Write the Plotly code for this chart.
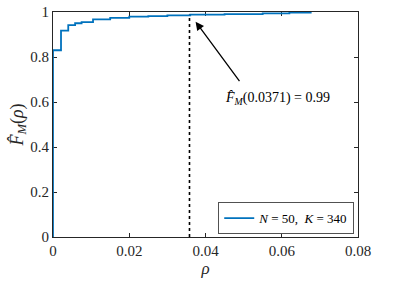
import plotly.graph_objects as go

rho = [0, 0, 0.0021, 0.0040, 0.0058, 0.0075, 0.0105, 0.015, 0.020, 0.025, 0.030, 0.036, 0.045, 0.055, 0.062, 0.0676]
F = [0, 0.83, 0.917, 0.942, 0.950, 0.955, 0.967, 0.974, 0.979, 0.982, 0.985, 0.988, 0.991, 0.994, 0.997, 1.0]

rho_mark = 0.0358
F_mark = 0.988
annot_text = "<i>F̂</i><sub><i>M</i></sub>(0.0371) = 0.99"
legend_name = "<i>N</i> = 50,  <i>K</i> = 340"

xticks = [0, 0.02, 0.04, 0.06, 0.08]
yticks = [0, 0.2, 0.4, 0.6, 0.8, 1]

FONT = "Liberation Serif"
BLUE = "#0072BD"

fig = go.Figure()
fig.add_trace(go.Scatter(x=rho, y=F, mode="lines", line=dict(color=BLUE, width=1.8, shape="hv"),
                         name=legend_name, cliponaxis=False))
fig.add_trace(go.Scatter(x=[rho_mark, rho_mark], y=[0, F_mark], mode="lines",
                         line=dict(color="black", width=1.6, dash="dot"), showlegend=False))

fig.add_annotation(x=0.0374, y=0.957, ax=0.0492, ay=0.686, axref="x", ayref="y", xref="x", yref="y",
                   text="", showarrow=True, arrowhead=2, arrowsize=1.3, arrowwidth=1.3, arrowcolor="black")
fig.add_annotation(x=0.0590, y=0.615, xref="x", yref="y", text=annot_text, showarrow=False,
                   font=dict(family=FONT, size=14, color="black"))

axis_common = dict(showline=True, linecolor="#262626", linewidth=0.8, mirror="ticks", ticks="inside",
                   ticklen=4, tickcolor="#262626", showgrid=False, zeroline=False, automargin=False,
                   layer="below traces",
                   tickfont=dict(family=FONT, size=15, color="#262626"))
fig.update_xaxes(range=[0, 0.08], tickvals=xticks, ticktext=["0", "0.02", "0.04", "0.06", "0.08"],
                 title=dict(text="<i>ρ</i>", font=dict(family=FONT, size=17, color="#262626"), standoff=4),
                 **axis_common)
fig.update_yaxes(range=[0, 1], tickvals=yticks, ticktext=["0", "0.2", "0.4", "0.6", "0.8", "1"],
                 title=dict(text="<i>F̂</i><sub><i>M</i></sub>(<i>ρ</i>)", font=dict(family=FONT, size=18, color="#262626"), standoff=2),
                 **axis_common)

fig.update_layout(width=395, height=286, margin=dict(l=53, r=37, t=12, b=49),
                  paper_bgcolor="white", plot_bgcolor="white",
                  legend=dict(x=0.985, y=0.012, xanchor="right", yanchor="bottom",
                              bordercolor="#262626", borderwidth=0.8, bgcolor="white",
                              font=dict(family=FONT, size=13, color="black"),
                              itemwidth=30, tracegroupgap=0))
fig.write_html("out.html", config={"displayModeBar": False},
               post_script="document.body.style.margin='0';")
